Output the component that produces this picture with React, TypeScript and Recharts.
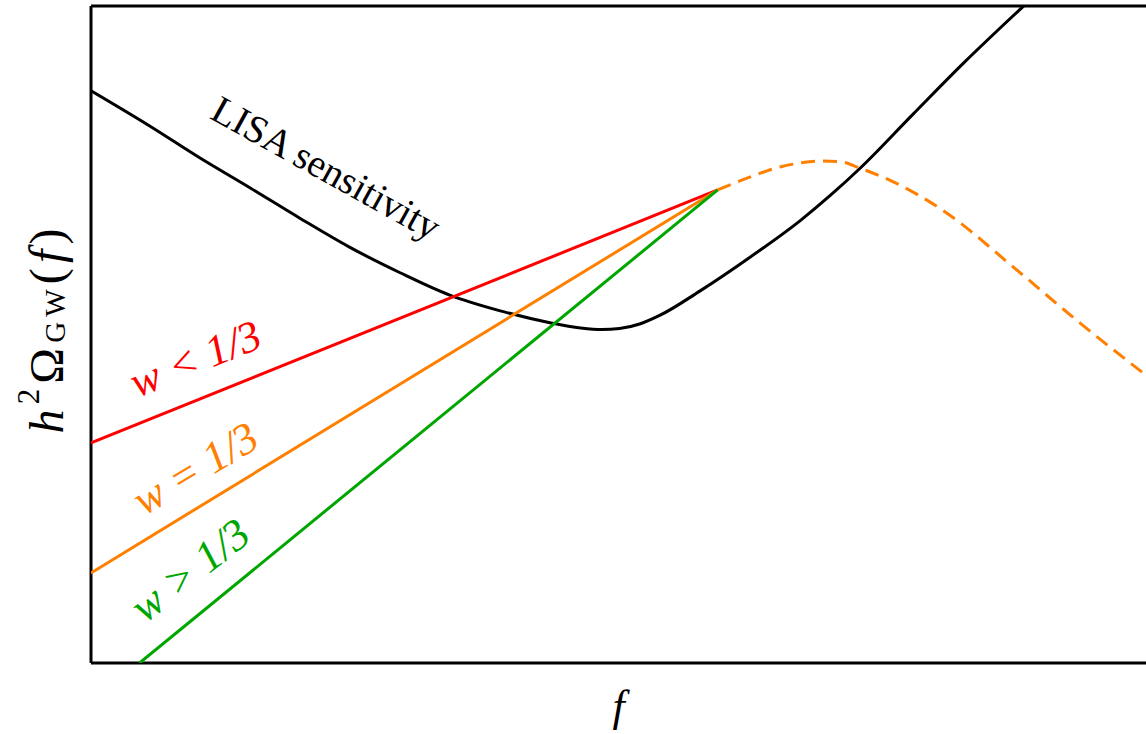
import { LineChart, Line, XAxis, YAxis, ReferenceLine, ReferenceDot } from 'recharts';

// log f (arbitrary units) vs log h^2 Omega (arbitrary units)
const lisaX = [0, 5.6, 10.3, 15.1, 19.8, 24.5, 29.3, 34.0, 38.8, 43.5, 46.4, 48.4, 50.1, 52.0, 53.9, 57.7, 62.5, 67.2, 70.1, 72.9, 77.9, 82.7, 88.4];
const lisaY = [87.1, 81.7, 76.9, 72.3, 67.7, 63.3, 59.4, 56.0, 53.6, 51.8, 51.0, 50.75, 50.9, 51.6, 52.9, 56.6, 61.8, 67.3, 71.2, 75.3, 83.5, 91.3, 100];

const redX = [0, 59.4];
const redY = [33.5, 72.0];
const orangeX = [0, 59.4];
const orangeY = [13.7, 72.0];
const greenX = [4.6, 59.4];
const greenY = [0, 72.0];

const peakX = [59.4, 62.5, 65.3, 67.2, 69.1, 71.0, 72.9, 75.7, 81.1, 87.4, 93.7, 100];
const peakY = [72.0, 74.0, 75.5, 76.1, 76.4, 76.3, 75.3, 73.5, 68.5, 60.3, 51.8, 43.8];

const toRows = (xs: number[], ys: number[]) => xs.map((x, i) => ({ x, y: ys[i] }));

const FONT = '"Liberation Serif", "DejaVu Serif", serif';

const notes = [
  { x: 22.3, y: 75.4, angle: 29, color: '#000', size: 39, italic: false, text: 'LISA sensitivity' },
  { x: 9.9, y: 46.3, angle: -22, color: '#ff0000', size: 44, italic: true, text: 'w < 1/3' },
  { x: 9.9, y: 29.6, angle: -31, color: '#ff8000', size: 44, italic: true, text: 'w = 1/3' },
  { x: 9.4, y: 14.1, angle: -38, color: '#00a600', size: 44, italic: true, text: 'w > 1/3' },
];

const noteShape = (n: (typeof notes)[number]) => (p: any) => (
  <text
    x={p.cx}
    y={p.cy}
    transform={`rotate(${n.angle} ${p.cx} ${p.cy})`}
    textAnchor='middle'
    dominantBaseline='central'
    fill={n.color}
    fontFamily={FONT}
    fontSize={n.size}
    fontStyle={n.italic ? 'italic' : 'normal'}
    style={{ whiteSpace: 'pre' }}
  >
    {n.text}
  </text>
);

const frame = { stroke: '#000', strokeWidth: 3 };

const App = () => {
  return (
    <div style={{ position: 'absolute', left: 0, top: 0, background: '#fff' }}>
      <LineChart width={1146} height={734} margin={{ top: 6, right: 0, bottom: 70, left: 90 }}>
        <XAxis
          type='number'
          dataKey='x'
          domain={[0, 100]}
          allowDataOverflow
          height={1}
          tick={false}
          tickLine={false}
          axisLine={false}
          label={{
            content: (p: any) => (
              <text
                x={p.viewBox.x + p.viewBox.width / 2}
                y={p.viewBox.y + 58}
                textAnchor='middle'
                fontFamily={FONT}
                fontStyle='italic'
                fontSize={44}
              >
                f
              </text>
            ),
          }}
        />
        <YAxis
          type='number'
          domain={[0, 100]}
          allowDataOverflow
          width={1}
          tick={false}
          tickLine={false}
          axisLine={false}
          label={{
            content: () => {
              const cx = 46;
              const cy = 331;
              return (
                <text
                  x={cx}
                  y={cy}
                  transform={`rotate(-90 ${cx} ${cy})`}
                  textAnchor='middle'
                  dominantBaseline='central'
                  fontFamily={FONT}
                  fontSize={48}
                  textLength={205}
                  lengthAdjust='spacing'
                >
                  <tspan fontStyle='italic'>h</tspan>
                  <tspan fontSize={31} dy={-18}>2</tspan>
                  <tspan dy={18}>Ω</tspan>
                  <tspan fontSize={29} dy={9}>GW</tspan>
                  <tspan dy={-9}>(</tspan>
                  <tspan fontStyle='italic'>f</tspan>
                  <tspan>)</tspan>
                </text>
              );
            },
          }}
        />
        <ReferenceLine y={100} {...frame} />
        <ReferenceLine y={0} {...frame} />
        <ReferenceLine x={0} {...frame} />
        <Line data={toRows(lisaX, lisaY)} dataKey='y' type='monotone' stroke='#000' strokeWidth={3} dot={false} isAnimationActive={false} />
        <Line data={toRows(redX, redY)} dataKey='y' type='linear' stroke='#ff0000' strokeWidth={3} dot={false} isAnimationActive={false} />
        <Line data={toRows(orangeX, orangeY)} dataKey='y' type='linear' stroke='#ff8000' strokeWidth={3} dot={false} isAnimationActive={false} />
        <Line data={toRows(greenX, greenY)} dataKey='y' type='linear' stroke='#00a600' strokeWidth={3} dot={false} isAnimationActive={false} />
        <Line data={toRows(peakX, peakY)} dataKey='y' type='monotone' stroke='#ff8000' strokeWidth={3} strokeDasharray='14 8' dot={false} isAnimationActive={false} />
        {notes.map((n) => (
          <ReferenceDot key={n.text} x={n.x} y={n.y} r={0} shape={noteShape(n)} />
        ))}
      </LineChart>
    </div>
  );
};

export default App;
